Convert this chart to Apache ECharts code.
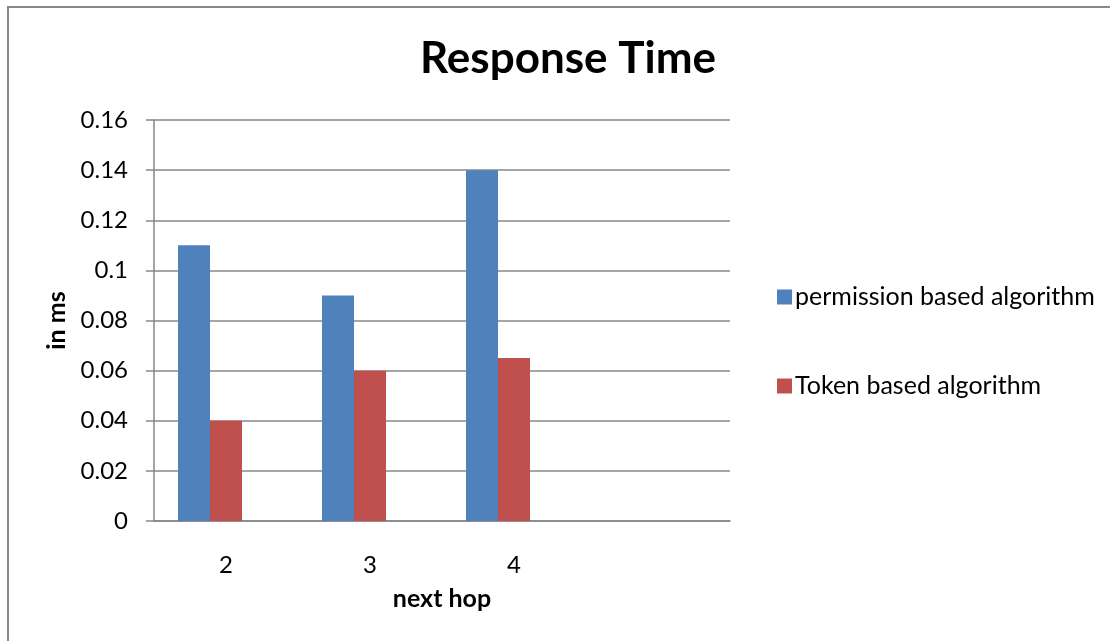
<!DOCTYPE html>
<html>
<head>
<meta charset="utf-8">
<script src="https://cdn.jsdelivr.net/npm/echarts@6/dist/echarts.min.js"></script>
<style>
  html, body { margin: 0; padding: 0; background: #fff; }
  #chart { width: 1110px; height: 641px; }
</style>
</head>
<body>
<div id="chart"></div>
<script>
// Hops (the last slot of the category axis is left empty)
const categories = ['2', '3', '4', ''];
const permissionValues = [0.11, 0.09, 0.14, null];
const tokenValues = [0.04, 0.06, 0.065, null];
// Third, empty series keeps the three-bar slot layout of each group
const emptySeries = [null, null, null, null];
const seriesNames = ['permission based algorithm', 'Token based algorithm'];
const yTicks = { min: 0, max: 0.16, interval: 0.02 };

const FONT = 'Lato';
const GRID_COLOR = '#878787';

const chart = echarts.init(document.getElementById('chart'));
chart.setOption({
  animation: false,
  backgroundColor: '#ffffff',
  title: {
    text: 'Response Time',
    left: 563,
    textAlign: 'center',
    top: 32,
    textStyle: { fontFamily: FONT, fontWeight: 'bold', fontSize: 44, color: '#000' }
  },
  graphic: [{
    type: 'rect',
    shape: { x: 8, y: 7, width: 1200, height: 700 },
    style: { fill: 'none', stroke: '#888888', lineWidth: 2 },
    silent: true
  }],
  legend: {
    orient: 'vertical',
    left: 772,
    top: 278,
    data: seriesNames,
    icon: 'rect',
    itemWidth: 15,
    itemHeight: 15,
    itemGap: 61,
    textStyle: { fontFamily: FONT, fontSize: 25, color: '#000', padding: [0, 0, 0, -2], lineHeight: 28 }
  },
  grid: { left: 154, right: 380, top: 120, bottom: 120 },
  xAxis: {
    type: 'category',
    data: categories,
    name: 'next hop',
    nameLocation: 'middle',
    nameGap: 65,
    nameTextStyle: { fontFamily: FONT, fontWeight: 'bold', fontSize: 25, color: '#000' },
    axisLine: { lineStyle: { color: GRID_COLOR, width: 1.5 } },
    axisTick: { show: false },
    axisLabel: { fontFamily: FONT, fontSize: 24, color: '#000', margin: 32 }
  },
  yAxis: {
    type: 'value',
    min: yTicks.min,
    max: yTicks.max,
    interval: yTicks.interval,
    name: 'in ms',
    nameLocation: 'middle',
    nameRotate: 90,
    nameGap: 84,
    nameTextStyle: { fontFamily: FONT, fontWeight: 'bold', fontSize: 25, color: '#000' },
    axisLine: { show: true, lineStyle: { color: GRID_COLOR, width: 1.5 } },
    axisTick: { show: true, length: 8, lineStyle: { color: GRID_COLOR, width: 1.5 } },
    splitLine: { lineStyle: { color: GRID_COLOR, width: 1.5 } },
    axisLabel: { fontFamily: FONT, fontSize: 24, color: '#000', margin: 26 }
  },
  series: [
    {
      name: seriesNames[0],
      type: 'bar',
      data: permissionValues,
      itemStyle: { color: '#4F81BD' },
      barGap: '0%',
      barCategoryGap: '33.333%'
    },
    {
      name: seriesNames[1],
      type: 'bar',
      data: tokenValues,
      itemStyle: { color: '#C0504D' },
      barGap: '0%',
      barCategoryGap: '33.333%'
    },
    {
      name: 'empty',
      type: 'bar',
      data: emptySeries,
      barGap: '0%',
      barCategoryGap: '33.333%'
    }
  ]
});
</script>
</body>
</html>
